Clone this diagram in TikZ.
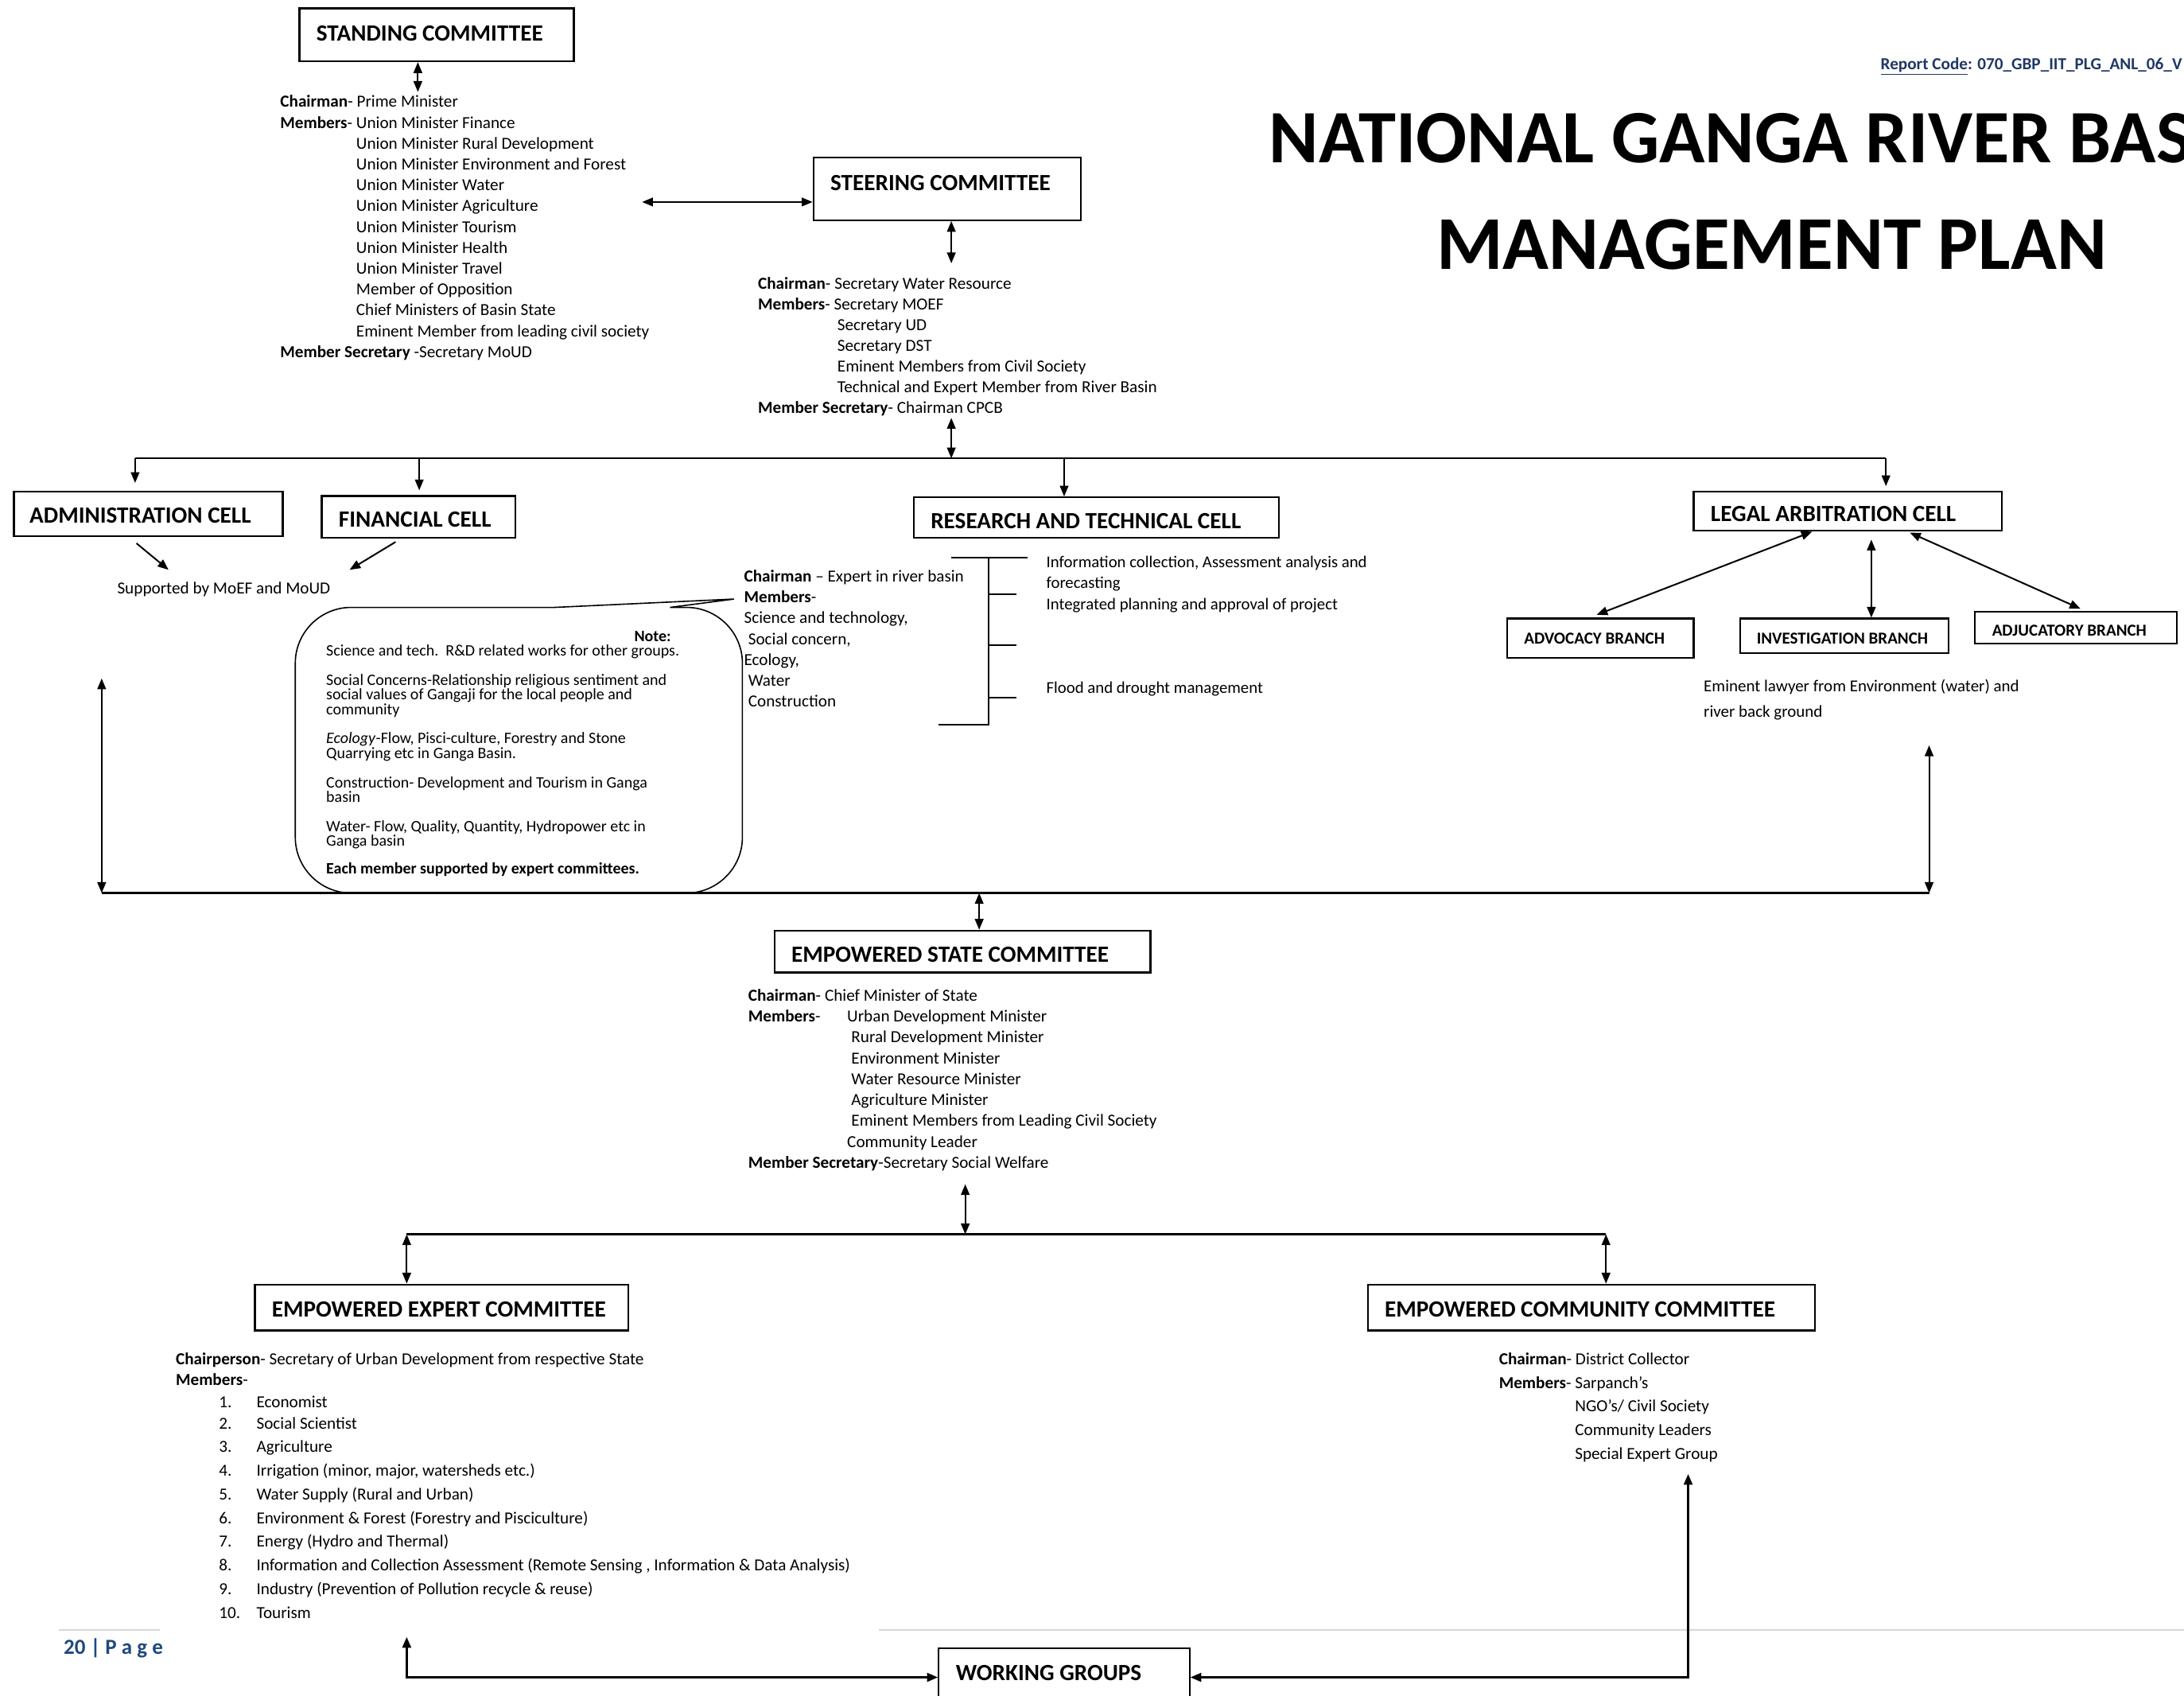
\documentclass[tikz,border=0pt]{standalone}
\usepackage{fontspec}
\setmainfont{Carlito}
\usetikzlibrary{arrows.meta,fit}
\definecolor{repblue}{RGB}{31,56,100}
\definecolor{pageblue}{RGB}{31,73,125}
\definecolor{footgrey}{RGB}{215,215,215}
\newcommand\cellbox[8]{%
  \node[cellframe,fit={(#2,#3)(#4,#5)}] (#1) {};
  \node[boxlabel] (#1-label) at (#6,#7) {#8};}
\newcommand\smallbox[8]{%
  \node[cellframe,fit={(#2,#3)(#4,#5)}] (#1) {};
  \node[smalllabel] (#1-label) at (#6,#7) {#8};}
\begin{document}
\begin{tikzpicture}[x=0.87565pt,y=-0.87565pt,
  >={Triangle[length=6.8pt,width=5.4pt]},
  cellframe/.style={draw,line width=1.1pt,inner sep=0pt,fill=white},
  boxlabel/.style={inner sep=0pt,anchor=base west,font=\bfseries\fontsize{14.6}{17}\selectfont},
  smalllabel/.style={inner sep=0pt,anchor=base west,font=\bfseries\fontsize{10.5}{12}\selectfont},
  body/.style={inner sep=0pt,anchor=base west,align=left,font=\fontsize{10.6}{13.1}\selectfont},
  conn/.style={line width=1pt},
  dbl/.style={conn,<->},
  one/.style={conn,->},
  heavy/.style={line width=1.7pt}]
\useasboundingbox (0,0) rectangle (1568,1217);
\clip (0,0) rectangle (1568,1217);
\fill[white] (0,0) rectangle (1568,1217);

% ---------- title and header ----------
\node[inner sep=0pt,anchor=base west,text=repblue,font=\bfseries\fontsize{10.6}{12}\selectfont] (repcode) at (1350,50) {\underline{Report Code}: 070\_GBP\_IIT\_PLG\_ANL\_06\_V};
\node[inner sep=0pt,anchor=base west,font=\bfseries\fontsize{47.4}{50}\selectfont] (title1) at (911,117) {NATIONAL GANGA RIVER BAS};
\node[inner sep=0pt,anchor=base,font=\bfseries\fontsize{47.8}{50}\selectfont] (title2) at (1272,193.5) {MANAGEMENT PLAN};

% ---------- boxes ----------
\cellbox{sc}{215}{6}{412}{44}{227}{29.5}{STANDING COMMITTEE}
\cellbox{st}{584}{113}{776}{158}{596}{136.5}{STEERING COMMITTEE}
\cellbox{adm}{10}{353}{203}{385}{21}{375.5}{ADMINISTRATION CELL}
\cellbox{fin}{231}{356}{370}{386}{243}{378.5}{FINANCIAL CELL}
\cellbox{rtc}{656}{357}{918}{386}{668}{379.5}{RESEARCH AND TECHNICAL CELL}
\cellbox{legal}{1216}{353}{1437}{381}{1228}{374.5}{LEGAL ARBITRATION CELL}
\smallbox{adv}{1082}{444}{1216}{472}{1094}{462.5}{ADVOCACY BRANCH}
\smallbox{inv}{1249.5}{444}{1399}{468.6}{1261}{462.5}{INVESTIGATION BRANCH}
\smallbox{adj}{1418}{439}{1563}{462}{1430}{456.5}{ADJUCATORY BRANCH}
\cellbox{esc}{556}{668}{826}{698}{568}{690.5}{EMPOWERED STATE COMMITTEE}
\cellbox{eec}{183}{922}{451}{955}{195}{945.5}{EMPOWERED EXPERT COMMITTEE}
\cellbox{ecc}{982}{922}{1303}{955}{994}{945.5}{EMPOWERED COMMUNITY COMMITTEE}
\cellbox{wg}{674}{1183}{854}{1232}{686}{1206.5}{WORKING GROUPS}

% ---------- text blocks (base anchor = last line) ----------
\node[body] (scText) at (201,256.5) {\textbf{Chairman}- Prime Minister\\
\textbf{Members}- Union Minister Finance\\
\hphantom{\textbf{Members}- }Union Minister Rural Development\\
\hphantom{\textbf{Members}- }Union Minister Environment and Forest\\
\hphantom{\textbf{Members}- }Union Minister Water\\
\hphantom{\textbf{Members}- }Union Minister Agriculture\\
\hphantom{\textbf{Members}- }Union Minister Tourism\\
\hphantom{\textbf{Members}- }Union Minister Health\\
\hphantom{\textbf{Members}- }Union Minister Travel\\
\hphantom{\textbf{Members}- }Member of Opposition\\
\hphantom{\textbf{Members}- }Chief Ministers of Basin State\\
\hphantom{\textbf{Members}- }Eminent Member from leading civil society\\
\textbf{Member Secretary} -Secretary MoUD};

\node[body,font=\fontsize{10.6}{13.0}\selectfont] (stText) at (544,296.5) {\textbf{Chairman}- Secretary Water Resource\\
\textbf{Members}- Secretary MOEF\\
\hspace*{49.9pt}Secretary UD\\
\hspace*{49.9pt}Secretary DST\\
\hspace*{49.9pt}Eminent Members from Civil Society\\
\hspace*{49.9pt}Technical and Expert Member from River Basin\\
\textbf{Member Secretary}- Chairman CPCB};

\node[body] (supp) at (84,426.5) {Supported by MoEF and MoUD};

\node[body,font=\fontsize{10.6}{13.13}\selectfont] (rtcText) at (534,507.5) {\textbf{Chairman} – Expert in river basin\\
\textbf{Members}-\\
Science and technology,\\
\hspace*{2.6pt}Social concern,\\
Ecology,\\
\hspace*{2.6pt}Water\\
\hspace*{2.6pt}Construction};

\node[body,font=\fontsize{10.4}{13.13}\selectfont] (rtcTasks) at (751,437.5) {Information collection, Assessment analysis and\\
forecasting\\
Integrated planning and approval of project};
\node[body,font=\fontsize{10.4}{13.13}\selectfont] (rtcFlood) at (751,497.5) {Flood and drought management};

\node[body,font=\fontsize{10.5}{15.8}\selectfont] (lawyer) at (1223,514.5) {Eminent lawyer from Environment (water) and\\
river back ground};

% ---------- callout ----------
\draw[line width=0.8pt,fill=white] (398,436) -- (527,430) -- (481,436) -- (493,436)
  .. controls (515,436) and (533,454) .. (533,476) -- (533,601)
  .. controls (533,623) and (515,641) .. (493,641) -- (252,641)
  .. controls (230,641) and (212,623) .. (212,601) -- (212,476)
  .. controls (212,454) and (230,436) .. (252,436) -- cycle;
\node[inner sep=0pt,anchor=base east,font=\bfseries\fontsize{10}{11}\selectfont] (note) at (482,460.5) {Note:};
\node[body,font=\fontsize{10}{9.2}\selectfont] (noteText) at (234,627.5) {Science and tech.\ \ R\&D related works for other groups.\\[9.2pt]
Social Concerns-Relationship religious sentiment and\\
social values of Gangaji for the local people and\\
community\\[9.2pt]
\textit{Ecology}-Flow, Pisci-culture, Forestry and Stone\\
Quarrying etc in Ganga Basin.\\[9.2pt]
Construction- Development and Tourism in Ganga\\
basin\\[9.2pt]
Water- Flow, Quality, Quantity, Hydropower etc in\\
Ganga basin\\[8.4pt]
\textbf{Each member supported by expert committees.}};

\node[body,font=\fontsize{10.6}{13.13}\selectfont] (escText) at (537,838.5) {\textbf{Chairman}- Chief Minister of State\\
\makebox[62.2pt][l]{\textbf{Members}-}Urban Development Minister\\
\hspace*{64.8pt}Rural Development Minister\\
\hspace*{64.8pt}Environment Minister\\
\hspace*{64.8pt}Water Resource Minister\\
\hspace*{64.8pt}Agriculture Minister\\
\hspace*{64.8pt}Eminent Members from Leading Civil Society\\
\hspace*{62.2pt}Community Leader\\
\textbf{Member Secretary}-Secretary Social Welfare};

\node[body,font=\fontsize{10.6}{13.13}\selectfont] (eecText) at (126,994.5) {\textbf{Chairperson}- Secretary of Urban Development from respective State\\
\textbf{Members}-};
\node[body,font=\fontsize{10.6}{13.13}\selectfont] (eecList) at (157,1161.5) {\makebox[23.6pt][l]{1.}Economist\\
\makebox[23.6pt][l]{2.}Social Scientist\\[1.75pt]
\makebox[23.6pt][l]{3.}Agriculture\\[1.75pt]
\makebox[23.6pt][l]{4.}Irrigation (minor, major, watersheds etc.)\\[1.75pt]
\makebox[23.6pt][l]{5.}Water Supply (Rural and Urban)\\[1.75pt]
\makebox[23.6pt][l]{6.}Environment \& Forest (Forestry and Pisciculture)\\[1.75pt]
\makebox[23.6pt][l]{7.}Energy (Hydro and Thermal)\\[1.75pt]
\makebox[23.6pt][l]{8.}Information and Collection Assessment (Remote Sensing , Information \& Data Analysis)\\[1.75pt]
\makebox[23.6pt][l]{9.}Industry (Prevention of Pollution recycle \& reuse)\\[1.75pt]
\makebox[23.6pt][l]{10.}Tourism};

\node[body,font=\fontsize{10.6}{14.9}\selectfont] (eccText) at (1076,1047.5) {\textbf{Chairman}- District Collector\\
\textbf{Members}- Sarpanch’s\\
\hphantom{\textbf{Members}- }NGO’s/ Civil Society\\
\hphantom{\textbf{Members}- }Community Leaders\\
\hphantom{\textbf{Members}- }Special Expert Group};

% ---------- footer ----------
\draw[footgrey,line width=1.4pt] (42,1170) -- (115,1170);
\draw[footgrey,line width=1.4pt] (631,1170) -- (1568,1170);
\node[inner sep=0pt,anchor=base west,text=pageblue,font=\bfseries\fontsize{13.5}{15}\selectfont] (pagenum) at (45.5,1187.5) {20 | P a g e};

% ---------- connectors ----------
\draw[dbl] (sc.south -| 300,0) -- (300,66);
\coordinate (scArrow) at (461,145);
\draw[dbl] (scArrow) -- (st.west |- scArrow);
\draw[dbl] (st.south -| 683,0) -- (683,189);

\coordinate (busL) at (97,329);
\coordinate (busR) at (1354,329);
\draw[conn] (busL) -- (busR);
\draw[dbl] (683,300) -- (683,329);
\draw[one,shorten >=5pt] (busL) -- (adm.north -| busL);
\draw[one,shorten >=3pt] (301,329) -- (fin.north -| 301,0);
\draw[one] (764,329) -- (rtc.north -| 764,0);
\draw[one,shorten >=3pt] (busR) -- (legal.north -| busR);

\draw[one] (98,390) -- (121,409);
\draw[one] (284,389) -- (251,409);

% bracket of research cell
\draw[conn] (683,400) -- (738,400);
\draw[conn] (710,400) -- (710,520) -- (674,520);
\draw[conn] (710,426.5) -- (730,426.5);
\draw[conn] (710,463) -- (730,463);
\draw[conn] (710,501) -- (730,501);

% legal branches
\draw[dbl,shorten >=5pt] (legal.south -| 1301,0) -- (adv.north -| 1141,0);
\draw[dbl,shorten <=5pt] (legal.south -| 1343.5,0) -- (inv.north -| 1343.5,0);
\draw[dbl,shorten <=1.5pt,shorten >=3pt] (legal.south -| 1369.6,0) -- (adj.north -| 1496.8,0);

% lower bus
\coordinate (bus2L) at (73,641);
\coordinate (bus2R) at (1385,641);
\draw[dbl] (73,487) -- (bus2L);
\draw[dbl] (1385,535) -- (bus2R);
\draw[heavy] (bus2L) -- (bus2R);
\draw[dbl] (703,641) -- (esc.north -| 703,0);

\coordinate (bus3L) at (292,886);
\coordinate (bus3R) at (1153,886);
\draw[dbl] (693,850) -- (693,886);
\draw[line width=1.2pt] (bus3L) -- (bus3R);
\draw[dbl] (bus3L) -- (eec.north -| bus3L);
\draw[dbl] (bus3R) -- (ecc.north -| bus3R);

\draw[dbl,line width=1.4pt] (292,1175) -- (292,1204) -- (wg.west |- 0,1204);
\draw[dbl,line width=1.4pt] (1212,1058) -- (1212,1204) -- (wg.east |- 0,1204);
\end{tikzpicture}
\end{document}
